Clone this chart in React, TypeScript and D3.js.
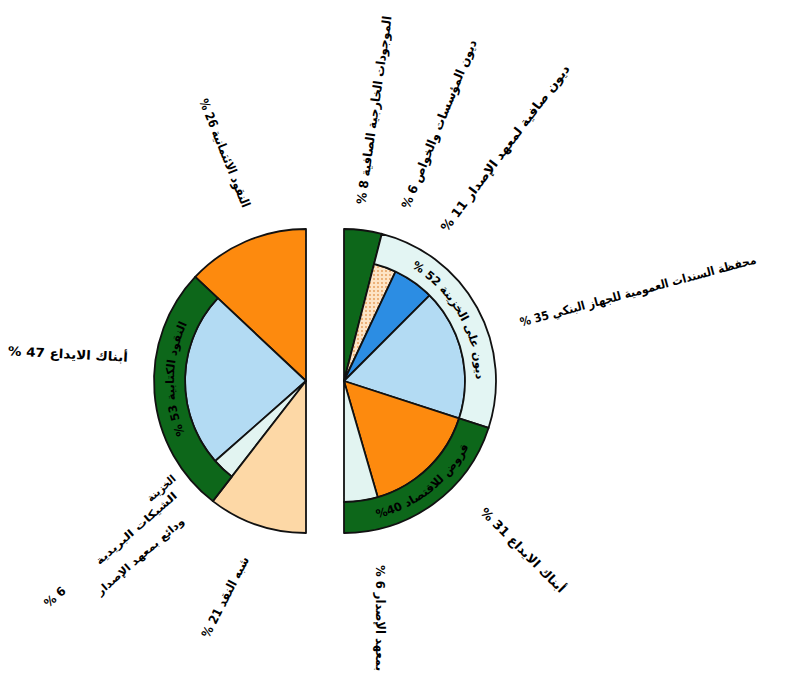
import React from 'react';
import * as d3 from 'd3';

// ---------- DATA ----------
// Left half (money supply): inner slices, counter-clockwise from top
const leftCategories = ['النقود الائتمانية', 'أبناك الايداع', 'الخزينة الشيكات البريدية ودائع بمعهد الإصدار', 'شبه النقد'];
const leftValues = [26, 47, 6, 21];
// Left outer ring groups
const leftRingCategories = ['النقود الائتمانية', 'النقود الكتابية', 'شبه النقد'];
const leftRingValues = [26, 53, 21];

// Right half (counterparts): inner slices, clockwise from top
const rightCategories = ['الموجودات الخارجية الصافية', 'ديون المؤسسات والخواص', 'ديون صافية لمعهد الإصدار', 'محفظة السندات العمومية للجهاز البنكي', 'أبناك الايداع', 'بمعهد الإصدار'];
const rightValues = [8, 6, 11, 35, 31, 9];
// Right outer ring groups
const rightRingCategories = ['الموجودات الخارجية الصافية', 'ديون على الخزينة', 'قروض للاقتصاد'];
const rightRingValues = [8, 52, 40];

// Label texts
const ringLabels = ['النقود الكتابية 53 %', 'ديون على الخزينة 52 %', 'قروض للاقتصاد \u200E%40'];
const outerLabels = [
  'الموجودات الخارجية الصافية 8 %',
  'ديون المؤسسات والخواص 6 %',
  'ديون صافية لمعهد الإصدار 11 %',
  'محفظة السندات العمومية للجهاز البنكي 35 %',
  'أبناك الايداع 31 %',
  'بمعهد الإصدار 6 %',
  'شبه النقد 21 %',
  'الخزينة',
  'الشيكات البريدية',
  'ودائع بمعهد الإصدار',
  '6 %',
  'أبناك الايداع 47 %',
  'النقود الائتمانية 26 %',
];

// ---------- STYLE / LAYOUT ----------
const GREEN = '#0d671a';
const ORANGE = '#fd8a0e';
const LIGHTBLUE = '#b3dbf3';
const PEACH = '#fdd8a6';
const PALE = '#e2f4f1';
const BLUE = '#2c8de3';
const RINGCYAN = '#e3f5f3';

const leftColors = [ORANGE, LIGHTBLUE, PALE, PEACH];
const leftFull = [true, false, false, true];
const leftRingColors = [null, GREEN, null];
const rightColors = [GREEN, 'url(#dots)', BLUE, LIGHTBLUE, ORANGE, PALE];
const rightFull = [true, false, false, false, false, false];
const rightRingColors = [null, RINGCYAN, GREEN];

const R_OUT = 152;
const R_IN = 121;
const LEFT_C = { x: 306, y: 381 };
const RIGHT_C = { x: 344, y: 381 };

// ring label placement: center angle (deg clockwise from top), baseline radius, direction
const ringLabelLayout = [
  { c: LEFT_C, angle: 271, r: 132, cw: true },
  { c: RIGHT_C, angle: 60, r: 132, cw: true },
  { c: RIGHT_C, angle: 142, r: 141, cw: false },
];

// outer label placement: center x, y, rotation, length, font size
const outerLayout = [
  { x: 374, y: 110, rot: -82, len: 190, fs: 12.5 },
  { x: 439, y: 124, rot: -68, len: 181, fs: 12.5 },
  { x: 505, y: 148, rot: -53, len: 205, fs: 12.5 },
  { x: 638, y: 291, rot: -15, len: 244, fs: 12 },
  { x: 523, y: 550, rot: 45, len: 114, fs: 12.5 },
  { x: 380, y: 618, rot: 90, len: 106, fs: 12.5 },
  { x: 225, y: 597, rot: -63, len: 89, fs: 12.5 },
  { x: 161, y: 488, rot: -41, len: 34, fs: 10.5 },
  { x: 136, y: 528, rot: -41, len: 104, fs: 10.5 },
  { x: 140, y: 556, rot: -41, len: 112, fs: 10.5 },
  { x: 55, y: 597, rot: -41, len: 24, fs: 12 },
  { x: 68, y: 354, rot: 3, len: 120, fs: 12.5 },
  { x: 225, y: 153, rot: 68, len: 116, fs: 12.5 },
];

const TAU = Math.PI * 2;

function arcPath(cx: number, cy: number, r: number, a0: number, a1: number) {
  const p = (a: number) => {
    const rad = (a * Math.PI) / 180;
    return [cx + r * Math.sin(rad), cy - r * Math.cos(rad)];
  };
  const [x0, y0] = p(a0);
  const [x1, y1] = p(a1);
  const sweep = a1 > a0 ? 1 : 0;
  const large = Math.abs(a1 - a0) > 180 ? 1 : 0;
  return `M${x0},${y0} A${r},${r} 0 ${large} ${sweep} ${x1},${y1}`;
}

export default function App() {
  const leftPie = d3.pie<number>().sort(null).startAngle(TAU).endAngle(Math.PI);
  const rightPie = d3.pie<number>().sort(null).startAngle(0).endAngle(Math.PI);
  const arc = d3.arc<any>();

  const leftSlices = leftPie(leftValues);
  const leftRing = leftPie(leftRingValues);
  const rightSlices = rightPie(rightValues);
  const rightRing = rightPie(rightRingValues);

  const stroke = '#111';
  const sw = 1.8;

  const drawSlices = (slices: any[], colors: any[], full: boolean[], c: any, key: string) =>
    slices.map((s, i) => (
      <path
        key={key + i}
        transform={`translate(${c.x},${c.y})`}
        d={arc({ innerRadius: 0, outerRadius: full[i] ? R_OUT : R_IN, startAngle: s.startAngle, endAngle: s.endAngle }) as string}
        fill={colors[i]}
        stroke={stroke}
        strokeWidth={sw}
        strokeLinejoin="round"
      />
    ));

  const drawRing = (slices: any[], colors: any[], c: any, key: string) =>
    slices.map((s, i) =>
      colors[i] ? (
        <path
          key={key + i}
          transform={`translate(${c.x},${c.y})`}
          d={arc({ innerRadius: R_IN, outerRadius: R_OUT, startAngle: s.startAngle, endAngle: s.endAngle }) as string}
          fill={colors[i]}
          stroke={stroke}
          strokeWidth={sw}
          strokeLinejoin="round"
        />
      ) : null
    );

  const font = "'DejaVu Sans', 'Noto Sans', sans-serif";

  return (
    <svg width={785} height={676} style={{ position: 'absolute', left: 0, top: 0, background: '#fff' }}>
      <defs>
        <pattern id="dots" width={4} height={4} patternUnits="userSpaceOnUse">
          <rect width={4} height={4} fill="#fde4c6" />
          <circle cx={2} cy={2} r={0.9} fill="#e49a55" />
        </pattern>
        {ringLabelLayout.map((l, i) => (
          <path
            key={'rp' + i}
            id={'ringpath' + i}
            d={l.cw ? arcPath(l.c.x, l.c.y, l.r, l.angle - 60, l.angle + 60) : arcPath(l.c.x, l.c.y, l.r, l.angle + 60, l.angle - 60)}
            fill="none"
          />
        ))}
      </defs>
      <rect width={785} height={676} fill="#fff" />

      {drawSlices(leftSlices, leftColors, leftFull, LEFT_C, 'ls')}
      {drawRing(leftRing, leftRingColors, LEFT_C, 'lr')}
      {drawSlices(rightSlices, rightColors, rightFull, RIGHT_C, 'rs')}
      {drawRing(rightRing, rightRingColors, RIGHT_C, 'rr')}

      {ringLabels.map((t, i) => (
        <text key={'rl' + i} fontFamily={font} fontSize={11.5} fontWeight="bold" fill="#000" direction="rtl">
          <textPath href={'#ringpath' + i} startOffset="50%" textAnchor="middle">
            {t}
          </textPath>
        </text>
      ))}

      {outerLabels.map((t, i) => {
        const l = outerLayout[i];
        return (
          <text
            key={'ol' + i}
            transform={`translate(${l.x},${l.y}) rotate(${l.rot})`}
            fontFamily={font}
            fontSize={l.fs}
            fontWeight="bold"
            fill="#000"
            direction="rtl"
            textAnchor="middle"
            dominantBaseline="central"
            textLength={l.len}
            lengthAdjust="spacingAndGlyphs"
          >
            {t}
          </text>
        );
      })}
    </svg>
  );
}
